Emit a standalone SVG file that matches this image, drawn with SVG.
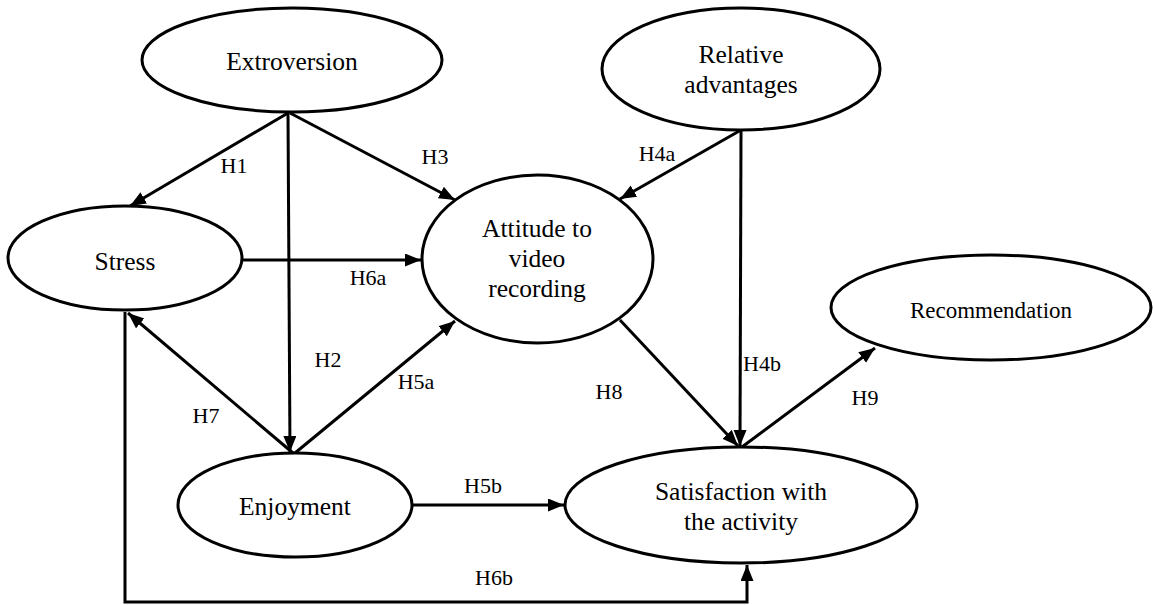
<svg xmlns="http://www.w3.org/2000/svg" width="1153" height="605" viewBox="0 0 1153 605">
<style>
.node ellipse{fill:#fff;stroke:#000;stroke-width:3}
.node text{font-family:"Liberation Serif","Times New Roman",serif;font-size:25.5px;fill:#000;text-anchor:middle}
.conn line,.conn polyline{fill:none;stroke:#000;stroke-width:3}
.lbl{font-family:"Liberation Serif","Times New Roman",serif;font-size:22px;fill:#000;text-anchor:middle}
</style>
<defs>
<marker id="ah" markerUnits="userSpaceOnUse" markerWidth="17" markerHeight="14" refX="16" refY="6.5" orient="auto">
<path d="M0,0 L16,6.5 L0,13 z" fill="#000"/>
</marker>
</defs>
<rect width="1153" height="605" fill="#fff"/>
<g class="conn">
<line x1="288" y1="113" x2="130" y2="206" marker-end="url(#ah)"/>
<line x1="288" y1="113" x2="290" y2="452" marker-end="url(#ah)"/>
<line x1="290" y1="113" x2="455" y2="200" marker-end="url(#ah)"/>
<line x1="741" y1="130" x2="620" y2="199" marker-end="url(#ah)"/>
<line x1="741" y1="130" x2="740" y2="446" marker-end="url(#ah)"/>
<line x1="295" y1="453" x2="455" y2="321" marker-end="url(#ah)"/>
<line x1="412" y1="505" x2="564" y2="505" marker-end="url(#ah)"/>
<line x1="242" y1="260" x2="421" y2="260" marker-end="url(#ah)"/>
<polyline points="125,312 125,602 747,602 747,565" marker-end="url(#ah)"/>
<line x1="293" y1="453" x2="128" y2="313" marker-end="url(#ah)"/>
<line x1="620" y1="320" x2="738" y2="446" marker-end="url(#ah)"/>
<line x1="742" y1="447" x2="875" y2="348" marker-end="url(#ah)"/>
<text class="lbl" x="234" y="173">H1</text>
<text class="lbl" x="328" y="367">H2</text>
<text class="lbl" x="435" y="164">H3</text>
<text class="lbl" x="657" y="161">H4a</text>
<text class="lbl" x="762" y="371">H4b</text>
<text class="lbl" x="416" y="389">H5a</text>
<text class="lbl" x="483" y="493">H5b</text>
<text class="lbl" x="368" y="285">H6a</text>
<text class="lbl" x="494" y="585">H6b</text>
<text class="lbl" x="206" y="423">H7</text>
<text class="lbl" x="609" y="399">H8</text>
<text class="lbl" x="865" y="405">H9</text>
</g>
<g id="extroversion" class="node">
<ellipse cx="292" cy="60" rx="150" ry="52"/>
<text x="292" y="70">Extroversion</text>
</g>
<g id="relative-advantages" class="node">
<ellipse cx="741" cy="69" rx="139" ry="61"/>
<text x="741" y="63">Relative</text>
<text x="741" y="93">advantages</text>
</g>
<g id="stress" class="node">
<ellipse cx="125" cy="258" rx="117" ry="52"/>
<text x="125" y="270">Stress</text>
</g>
<g id="attitude" class="node">
<ellipse cx="537.5" cy="259" rx="115.5" ry="84"/>
<text x="537" y="237">Attitude to</text>
<text x="537" y="267">video</text>
<text x="537" y="297">recording</text>
</g>
<g id="recommendation" class="node">
<ellipse cx="991" cy="307.5" rx="160" ry="52.5"/>
<text x="991" y="318" style="font-size:23px">Recommendation</text>
</g>
<g id="enjoyment" class="node">
<ellipse cx="295" cy="505" rx="117" ry="52"/>
<text x="295" y="515">Enjoyment</text>
</g>
<g id="satisfaction" class="node">
<ellipse cx="741" cy="505" rx="176" ry="58"/>
<text x="741" y="500">Satisfaction with</text>
<text x="741" y="530">the activity</text>
</g>
</svg>
